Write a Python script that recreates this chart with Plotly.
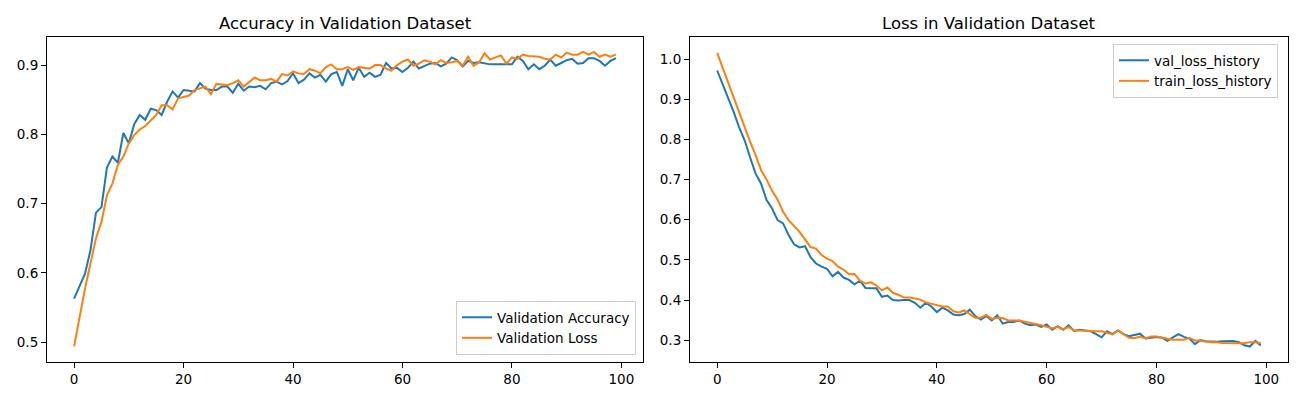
import plotly.graph_objects as go

epochs = list(range(100))

val_accuracy = [
    0.563, 0.580, 0.599, 0.633, 0.687, 0.695, 0.752, 0.768, 0.759, 0.802,
    0.787, 0.815, 0.828, 0.821, 0.837, 0.835, 0.828, 0.847, 0.862, 0.853,
    0.864, 0.863, 0.862, 0.874, 0.866, 0.864, 0.864, 0.869, 0.869, 0.860,
    0.873, 0.863, 0.869, 0.868, 0.870, 0.865, 0.874, 0.876, 0.872, 0.877,
    0.888, 0.874, 0.879, 0.888, 0.882, 0.886, 0.876, 0.887, 0.890, 0.870,
    0.894, 0.878, 0.896, 0.883, 0.889, 0.883, 0.886, 0.903, 0.895, 0.896,
    0.890, 0.896, 0.905, 0.895, 0.898, 0.902, 0.903, 0.898, 0.902, 0.911,
    0.907, 0.898, 0.906, 0.903, 0.904, 0.902, 0.901, 0.901, 0.901, 0.901,
    0.901, 0.912, 0.906, 0.894, 0.901, 0.894, 0.899, 0.908, 0.899, 0.903,
    0.907, 0.909, 0.902, 0.903, 0.910, 0.910, 0.906, 0.899, 0.906, 0.910,
]

val_loss_left = [
    0.494, 0.537, 0.578, 0.614, 0.650, 0.674, 0.712, 0.729, 0.756, 0.768,
    0.787, 0.799, 0.807, 0.812, 0.820, 0.828, 0.842, 0.842, 0.836, 0.852,
    0.854, 0.856, 0.864, 0.866, 0.869, 0.858, 0.873, 0.872, 0.871, 0.874,
    0.878, 0.869, 0.876, 0.882, 0.878, 0.878, 0.880, 0.876, 0.887, 0.885,
    0.891, 0.888, 0.887, 0.894, 0.892, 0.888, 0.897, 0.901, 0.894, 0.894,
    0.897, 0.893, 0.897, 0.896, 0.895, 0.900, 0.900, 0.895, 0.892, 0.900,
    0.905, 0.908, 0.899, 0.902, 0.907, 0.905, 0.901, 0.907, 0.903, 0.904,
    0.906, 0.899, 0.912, 0.899, 0.904, 0.917, 0.908, 0.911, 0.914, 0.902,
    0.911, 0.909, 0.915, 0.913, 0.912, 0.912, 0.909, 0.908, 0.915, 0.911,
    0.918, 0.915, 0.915, 0.919, 0.915, 0.919, 0.912, 0.915, 0.912, 0.915,
]

val_loss_history = [
    0.972, 0.939, 0.902, 0.869, 0.830, 0.798, 0.755, 0.715, 0.690, 0.649,
    0.628, 0.599, 0.591, 0.562, 0.539, 0.531, 0.534, 0.507, 0.491, 0.483,
    0.478, 0.459, 0.470, 0.456, 0.450, 0.439, 0.448, 0.430, 0.429, 0.429,
    0.408, 0.411, 0.400, 0.399, 0.400, 0.400, 0.393, 0.381, 0.393, 0.384,
    0.370, 0.381, 0.374, 0.364, 0.362, 0.365, 0.376, 0.360, 0.351, 0.360,
    0.349, 0.362, 0.341, 0.345, 0.345, 0.349, 0.341, 0.337, 0.339, 0.333,
    0.339, 0.326, 0.335, 0.326, 0.337, 0.323, 0.326, 0.324, 0.322, 0.315,
    0.307, 0.322, 0.315, 0.324, 0.315, 0.310, 0.313, 0.316, 0.304, 0.306,
    0.308, 0.306, 0.298, 0.307, 0.315, 0.308, 0.304, 0.290, 0.300, 0.297,
    0.296, 0.296, 0.297, 0.298, 0.298, 0.295, 0.287, 0.284, 0.298, 0.287,
]

train_loss_history = [
    1.016, 0.979, 0.939, 0.902, 0.863, 0.827, 0.794, 0.761, 0.723, 0.700,
    0.672, 0.650, 0.620, 0.599, 0.584, 0.570, 0.551, 0.532, 0.528, 0.512,
    0.503, 0.497, 0.483, 0.476, 0.464, 0.465, 0.448, 0.441, 0.444, 0.436,
    0.424, 0.431, 0.418, 0.413, 0.406, 0.406, 0.404, 0.401, 0.394, 0.391,
    0.388, 0.384, 0.384, 0.372, 0.369, 0.374, 0.365, 0.356, 0.356, 0.363,
    0.353, 0.356, 0.355, 0.349, 0.349, 0.349, 0.346, 0.343, 0.341, 0.337,
    0.333, 0.329, 0.333, 0.326, 0.333, 0.324, 0.324, 0.323, 0.322, 0.322,
    0.322, 0.317, 0.314, 0.324, 0.315, 0.306, 0.305, 0.309, 0.304, 0.309,
    0.309, 0.306, 0.303, 0.301, 0.301, 0.301, 0.306, 0.299, 0.299, 0.296,
    0.295, 0.295, 0.293, 0.293, 0.292, 0.292, 0.292, 0.295, 0.295, 0.292,
]

BLUE = "#1f77b4"
ORANGE = "#ff7f0e"
FONT = "DejaVu Sans"
W, H = 1300, 400

fig = go.Figure()
fig.add_trace(go.Scatter(x=epochs, y=val_accuracy, mode="lines", name="Validation Accuracy",
                         line=dict(color=BLUE, width=2), xaxis="x", yaxis="y", legend="legend"))
fig.add_trace(go.Scatter(x=epochs, y=val_loss_left, mode="lines", name="Validation Loss",
                         line=dict(color=ORANGE, width=2), xaxis="x", yaxis="y", legend="legend"))
fig.add_trace(go.Scatter(x=epochs, y=val_loss_history, mode="lines", name="val_loss_history",
                         line=dict(color=BLUE, width=2), xaxis="x2", yaxis="y2", legend="legend2"))
fig.add_trace(go.Scatter(x=epochs, y=train_loss_history, mode="lines", name="train_loss_history",
                         line=dict(color=ORANGE, width=2), xaxis="x2", yaxis="y2", legend="legend2"))

ax_common = dict(showline=True, linecolor="black", linewidth=1.1, mirror=True,
                 ticks="outside", ticklen=5, tickwidth=1.1, tickcolor="black",
                 showgrid=False, zeroline=False, automargin=False,
                 tickfont=dict(family=FONT, size=13.5, color="black"))

ydom = [1 - 362 / H, 1 - 37 / H]
legend_common = dict(bgcolor="rgba(255,255,255,0.8)", bordercolor="#cccccc", borderwidth=1,
                     font=dict(family=FONT, size=13.5, color="black"), tracegroupgap=0,
                     itemwidth=30)
fig.update_layout(
    width=W, height=H,
    margin=dict(l=0, r=0, t=0, b=0, autoexpand=False),
    paper_bgcolor="white", plot_bgcolor="white",
    font=dict(family=FONT, color="black"),
    xaxis=dict(domain=[47 / W, 643 / W], range=[-4.95, 103.95], tick0=0, dtick=20, anchor="y", **ax_common),
    yaxis=dict(domain=ydom, range=[0.4715, 0.9405], tick0=0.5, dtick=0.1, tickformat=".1f", anchor="x", **ax_common),
    xaxis2=dict(domain=[690 / W, 1288 / W], range=[-4.95, 103.95], tick0=0, dtick=20, anchor="y2", **ax_common),
    yaxis2=dict(domain=ydom, range=[0.2455, 1.0555], tick0=0.3, dtick=0.1, tickformat=".1f", anchor="x2", **ax_common),
    legend=dict(x=636 / W, y=1 - 355 / H, xanchor="right", yanchor="bottom", **legend_common),
    legend2=dict(x=1278 / W, y=1 - 44 / H, xanchor="right", yanchor="top", **legend_common),
    annotations=[
        dict(text="Accuracy in Validation Dataset", x=(47 + 643) / 2 / W, y=1 - 37 / H,
             xref="paper", yref="paper", xanchor="center", yanchor="bottom", yshift=2,
             showarrow=False, font=dict(family=FONT, size=16.5, color="black")),
        dict(text="Loss in Validation Dataset", x=(690 + 1288) / 2 / W, y=1 - 37 / H,
             xref="paper", yref="paper", xanchor="center", yanchor="bottom", yshift=2,
             showarrow=False, font=dict(family=FONT, size=16.5, color="black")),
    ],
)

fig.write_html("out.html", config={"displayModeBar": False},
               post_script="document.body.style.margin='0px';")
